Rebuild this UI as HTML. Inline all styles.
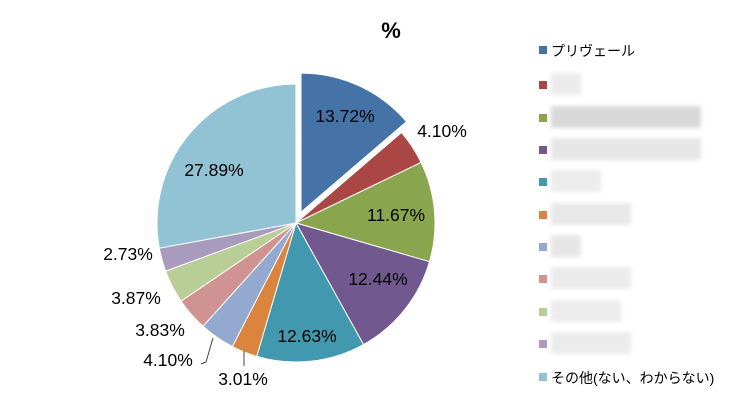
<!DOCTYPE html>
<html><head><meta charset="utf-8"><style>
body{margin:0;background:#fff;}
svg text{font-family:"Liberation Sans","Noto Sans CJK JP",sans-serif;}
</style></head><body>
<svg id="s" width="748" height="409" xmlns="http://www.w3.org/2000/svg">
<defs><filter id="b"><feGaussianBlur stdDeviation="2"/></filter></defs>
<g id="pie"></g>
<text x="391" y="38" font-size="22" font-weight="bold" text-anchor="middle">%</text>
<g font-size="17.5" fill="#000" text-anchor="middle">
<text x="345" y="122">13.72%</text>
<text x="442" y="137">4.10%</text>
<text x="396" y="221">11.67%</text>
<text x="378" y="285">12.44%</text>
<text x="307" y="342">12.63%</text>
<text x="243" y="385">3.01%</text>
<text x="168" y="366">4.10%</text>
<text x="160" y="336">3.83%</text>
<text x="136" y="304">3.87%</text>
<text x="128" y="260">2.73%</text>
<text x="214" y="176">27.89%</text>
</g>
<polyline points="201,364 206,362 213,338" fill="none" stroke="#444" stroke-width="1"/>
<line x1="244" y1="351" x2="244" y2="366" stroke="#444" stroke-width="1"/>
<g id="leg"></g>
</svg>
<script>
var v=[13.72,4.10,11.67,12.44,12.63,3.01,4.10,3.83,3.87,2.73,27.89];
var c=["#4572a7","#aa4643","#89a54e","#71588f","#4198af","#db843d","#93a9cf","#d19392","#b9cd96","#a99bbd","#92c3d5"];
var cx=296,cy=223,r=139,a=0,s="";
for(var i=0;i<v.length;i++){
 var a1=a, a2=a+v[i]*3.6; var m=(a1+a2)/2*Math.PI/180;
 var ox=0,oy=0; if(i==0){ox=12*Math.sin(m);oy=-12*Math.cos(m);}
 function p(t){t=t*Math.PI/180;return [(cx+ox+r*Math.sin(t)).toFixed(2),(cy+oy-r*Math.cos(t)).toFixed(2)];}
 var P=p(a1),Q=p(a2);
 s+='<path d="M'+(cx+ox)+','+(cy+oy)+' L'+P+' A'+r+','+r+' 0 '+((a2-a1)>180?1:0)+' 1 '+Q+' Z" fill="'+c[i]+'" stroke="#fff" stroke-width="1"/>';
 a=a2;
}
document.getElementById("pie").innerHTML=s;
var ys=[50,85,118,150,182,215,247,279,312,344,377];
var w=[0,30,150,150,50,80,30,80,70,80,0];
var col=["","#ebebeb","#d8d8d8","#e6e6e6","#ececec","#e8e8e8","#e6e6e6","#ebebeb","#ececec","#ebebeb"];
var L="";
for(var i=0;i<11;i++){
 L+='<rect x="539" y="'+(ys[i]-4)+'" width="8" height="8" fill="'+c[i]+'"/>';
 if(w[i])L+='<rect x="551" y="'+(ys[i]-12)+'" width="'+w[i]+'" height="22" fill="'+col[i]+'" filter="url(#b)"/>';
}
L+='<text x="551" y="'+(ys[0]+6)+'" font-size="14">プリヴェール</text>';
L+='<text x="551" y="'+(ys[10]+6)+'" font-size="14">その他(ない、わからない)</text>';
document.getElementById("leg").innerHTML=L;
</script>
</body></html>
